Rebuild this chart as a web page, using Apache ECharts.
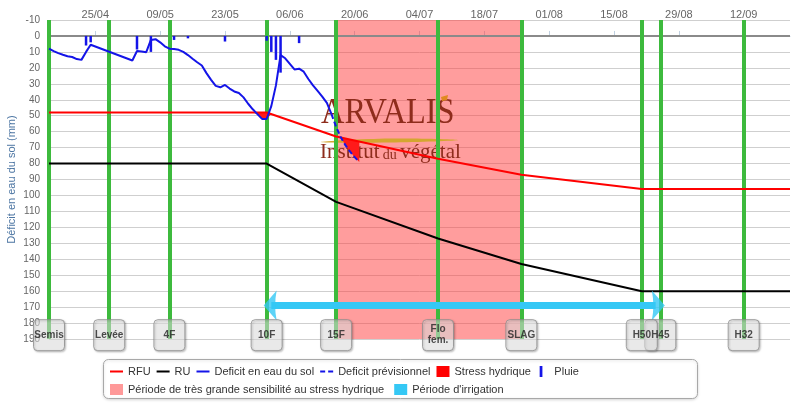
<!DOCTYPE html>
<html><head><meta charset="utf-8">
<script src="https://cdn.jsdelivr.net/npm/echarts@6/dist/echarts.min.js"></script>
<style>html,body{margin:0;padding:0;background:#fff}#c{width:800px;height:404px}</style>
</head><body><div id="c"></div>
<script>
// ---------- data ----------
const year = 2019;
const firstDay = [4, 15];   // 15/04
const lastDay = [9, 22];    // 22/09
const tickLabels = ['25/04','09/05','23/05','06/06','20/06','04/07','18/07','01/08','15/08','29/08','12/09'];

const stageNames = ['Semis','Levée','4F','10F','15F','Flo\nfem.','SLAG','H45','H50','H32'];
const stageDates = ['15/04','28/04','11/05','01/06','16/06','08/07','26/07','25/08','21/08','12/09'];

const rfuDates = ['15/04','01/06','16/06','08/07','26/07','21/08','22/09'];
const rfuValues = [48, 48, 63, 77, 87, 96, 96];
const ruDates = ['15/04','01/06','16/06','08/07','26/07','21/08','22/09'];
const ruValues = [80, 80, 104, 127, 143, 160, 160];

const deficitStart = '15/04';
const deficitValues = [
  8, 9.5, 10.8, 11.8, 12.7, 13.2, 14.5, 15, 10, 5.5, 6.6, 7.7, 8.8, 9.9, 11, 12.1,
  13.2, 14.3, 15.4, 9.4, 9.8, 10.2, 2.5, 2, 4, 6.5, 8, 8.2, 8.7, 10, 12, 14.3, 16.5, 18.5, 23.3, 27.5, 31.3, 32.2, 30.7, 33, 34.8, 35.8, 38.5, 42.5, 46, 49, 52,
  52, 44, 31, 12, 14, 17.5, 21, 20.5, 22.4, 27, 31, 34.5, 38, 42, 49
];
const forecastDates = ['15/06','16/06','17/06','18/06','19/06','20/06','21/06'];
const forecastValues = [49, 57, 63.5, 68.5, 72.5, 76, 79];

const rainDates = ['23/04','24/04','04/05','07/05','12/05','15/05','23/05','01/06','02/06','03/06','04/06','08/06'];
const rainValues = [6, 4, 8.5, 10, 2.5, 1.5, 3.5, 3, 10, 15, 23, 4.5];

const stress1Dates = ['29/05','30/05','31/05','01/06','02/06'];
const stress1Low = [48, 48, 48, 48, 49];
const stress1High = [48, 49, 52, 52, 49];
const stress2Dates = ['17/06','18/06','19/06','20/06','21/06'];
const stress2Low = [63.5, 64.5, 65, 65.5, 66];
const stress2High = [63.5, 68.5, 72.5, 76, 79];

const sensitiveStart = '16/06', sensitiveEnd = '26/07';
const irrigationStart = '01/06', irrigationEnd = '25/08', irrigationLevel = 169;
const stageLabelLevel = 187.6;

// ---------- build ----------
const dates = [];
for (let t = Date.UTC(year, firstDay[0]-1, firstDay[1]); t <= Date.UTC(year, lastDay[0]-1, lastDay[1]); t += 86400000) {
  const d = new Date(t);
  dates.push(String(d.getUTCDate()).padStart(2,'0') + '/' + String(d.getUTCMonth()+1).padStart(2,'0'));
}
const zip = (ds, vs) => ds.map((d, i) => [d, vs[i]]);
const d0 = dates.indexOf(deficitStart);
const deficitData = deficitValues.map((v, i) => [dates[d0 + i], v]);

const FONT = 'Liberation Sans';
const SENS = 'Période de très grande sensibilité au stress hydrique';
const IRR = "Période d'irrigation";
const GREEN = '#3dba3d', BLUE = '#1414e8', CYAN = '#35c8f5';
const LINE_ICON = 'path://M0,0M13,11M0,4.5h13v2h-13z';
const DASH_ICON = 'path://M0,0M13,11M0,4.5h5v2h-5zM8,4.5h5v2h-5z';

function stressPair(id, ds, lo, hi) {
  return [
    { type:'line', name:'base'+id, stack:'st'+id, data: zip(ds, lo), symbol:'none', silent:true,
      lineStyle:{width:0, opacity:0}, z:4 },
    { type:'line', name:'Stress hydrique', stack:'st'+id, data: ds.map((d,i)=>[d, hi[i]-lo[i]]), symbol:'none', silent:true,
      color:'#ff0000', itemStyle:{color:'#ff0000'}, lineStyle:{width:0, opacity:0}, areaStyle:{color:'#ff1a1a', opacity:1}, z:4 }
  ];
}

const chart = echarts.init(document.getElementById('c'));
chart.setOption({
  animation:false,
  textStyle:{fontFamily:FONT},
  grid:{left:49, right:10, top:20, bottom:65, outerBoundsMode:'none', containLabel:false},
  xAxis:{
    type:'category', data:dates, boundaryGap:false, position:'top',
    axisLine:{lineStyle:{color:'#c0d0e0', width:1}},
    axisTick:{show:true, length:5, interval:(i,v)=>tickLabels.includes(v), lineStyle:{color:'#c0d0e0'}},
    axisLabel:{interval:(i,v)=>tickLabels.includes(v), color:'#666', fontSize:11, fontFamily:FONT, margin:0},
    splitLine:{show:false}
  },
  yAxis:{
    type:'value', inverse:true, min:-10, max:190, interval:10,
    name:'Déficit en eau du sol (mm)', nameLocation:'middle', nameGap:32, nameRotate:90, nameMoveOverlap:false,
    nameTextStyle:{color:'#4d76a3', fontSize:11, fontFamily:FONT},
    axisLine:{show:false}, axisTick:{show:false},
    axisLabel:{color:'#666', fontSize:10, fontFamily:FONT, margin:9},
    splitLine:{lineStyle:{color:'#cfcfcf', width:1}}
  },
  legend:[
    { left:110, top:366, padding:0, itemWidth:13, itemHeight:11, itemGap:6, selectedMode:false,
      textStyle:{fontFamily:FONT, fontSize:11, color:'#333'},
      data:[ {name:'RFU', icon:LINE_ICON}, {name:'RU', icon:LINE_ICON}, {name:'Deficit en eau du sol', icon:LINE_ICON},
             {name:'Deficit prévisionnel', icon:DASH_ICON},
             {name:'Stress hydrique', icon:'rect'}, {name:'Pluie', icon:'path://M0,0M13,12M3,0h3v12h-3z'} ] },
    { left:110, top:384, padding:0, itemWidth:13, itemHeight:11, itemGap:10, selectedMode:false,
      textStyle:{fontFamily:FONT, fontSize:11, color:'#333'},
      data:[ {name:SENS, icon:'rect'}, {name:IRR, icon:'rect'} ] }
  ],
  graphic:[
    { type:'rect', silent:true, z:0, shape:{x:103.5, y:359.5, width:594, height:39, r:5},
      style:{fill:'#fff', stroke:'#a8a8a8', lineWidth:1, shadowBlur:3, shadowColor:'rgba(0,0,0,0.15)', shadowOffsetY:1} },
    { type:'text', silent:true, z:2, x:321, y:114, scaleX:0.9,
      style:{text:'ARVALIS', font:'36px "Liberation Serif"', fill:'#8e2c1c', verticalAlign:'middle', align:'left'} },
    { type:'text', silent:true, z:2, x:320, y:152, scaleX:1,
      style:{text:'{a|Institut} {b|du} {a|végétal}', fill:'#8e2c1c', verticalAlign:'middle', align:'left',
        rich:{a:{fontSize:21, fontFamily:'Liberation Serif', fill:'#8e2c1c'}, b:{fontSize:14, fontFamily:'Liberation Serif', fill:'#8e2c1c', verticalAlign:'bottom'}}} },
    { type:'polygon', silent:true, z:2, shape:{points:[[321,142],[390,138.5],[458,140],[390,142.5]], smooth:0.4},
      style:{fill:'#d4a630'} },
    { type:'polygon', silent:true, z:2, shape:{points:[[441,97],[448,95],[447,100],[442,101]]},
      style:{fill:'#e08a20'} }
  ],
  series:[
    { type:'line', name:SENS, data:[], z:1, color:'#ff9999', itemStyle:{color:'#ff9999'}, silent:true,
      markArea:{silent:true, z:1, itemStyle:{color:'rgba(255,60,60,0.5)'},
        data:[[{xAxis:sensitiveStart},{xAxis:sensitiveEnd}]]},
      markLine:{silent:true, z:1.5, symbol:'none', label:{show:false},
        lineStyle:{color:'#8a8a8a', width:2, type:'solid'}, data:[{yAxis:0}]} },
    { type:'line', name:'stages', data:[], z:3, silent:true,
      markLine:{silent:true, z:3, symbol:'none', label:{show:false},
        lineStyle:{color:GREEN, width:4, type:'solid'},
        data: stageDates.map(d=>({xAxis:d}))} },
    ...stressPair(1, stress1Dates, stress1Low, stress1High),
    ...stressPair(2, stress2Dates, stress2Low, stress2High),
    { type:'line', name:'RFU', data:zip(rfuDates, rfuValues), symbol:'none', z:5, color:'#ff0000',
      lineStyle:{color:'#ff0000', width:2} },
    { type:'line', name:'RU', data:zip(ruDates, ruValues), symbol:'none', z:5, color:'#000000',
      lineStyle:{color:'#000000', width:2} },
    { type:'line', name:'Deficit en eau du sol', data:deficitData, symbol:'none', z:5, color:BLUE,
      lineStyle:{color:BLUE, width:2} },
    { type:'line', name:'Deficit prévisionnel', data:zip(forecastDates, forecastValues), symbol:'none', z:5, color:BLUE,
      lineStyle:{color:BLUE, width:2, type:[5,3]} },
    { type:'bar', name:'Pluie', data:zip(rainDates, rainValues), barWidth:2.5, z:5, color:BLUE,
      itemStyle:{color:BLUE} },
    { type:'line', name:IRR, data:[['02/06', irrigationLevel],['24/08', irrigationLevel]], symbol:'none', z:6, silent:true,
      color:CYAN, itemStyle:{color:CYAN}, lineStyle:{color:CYAN, width:7, cap:'butt'} },
    { type:'scatter', name:'irrArrows', z:6, silent:true, itemStyle:{color:CYAN},
      symbolSize:[13,30],
      data:[ {value:[irrigationStart, irrigationLevel], symbol:'path://M0,15L13,0Q10,15 13,30Z', symbolOffset:[3.5,0]},
             {value:[irrigationEnd, irrigationLevel], symbol:'path://M13,15L0,0Q3,15 0,30Z', symbolOffset:[-2,0]} ] },
    { type:'scatter', name:'stageBoxes', z:7, silent:true,
      symbol:'path://M4,0H27Q31,0 31,4V27Q31,31 27,31H4Q0,31 0,27V4Q0,0 4,0Z', symbolSize:[31,31],
      itemStyle:{color:'rgba(255,255,255,0.6)', borderColor:'#8c8c8c', borderWidth:1,
        shadowBlur:2, shadowColor:'rgba(0,0,0,0.35)', shadowOffsetX:1, shadowOffsetY:1},
      label:{show:true, position:'inside', formatter:'{b}', fontSize:10, fontWeight:'bold', color:'#222', lineHeight:11, fontFamily:FONT},
      data: stageDates.map((d,i)=>({name:stageNames[i], value:[d, stageLabelLevel]})) }
  ]
});
</script></body></html>
